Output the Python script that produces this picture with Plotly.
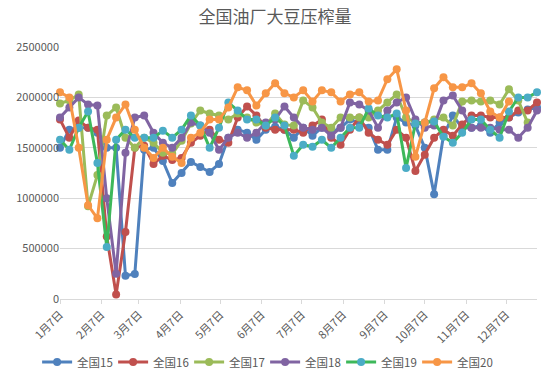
import pandas as pd
import plotly.graph_objects as go

dates = pd.date_range("2015-01-07", periods=52, freq="7D")

month_ticks = pd.date_range("2015-01-01", periods=12, freq="MS") + pd.Timedelta(days=6)
tick_labels = [f"{m}月7日" for m in range(1, 13)]

s15 = [1.50, 1.68, 1.70, 1.70, 1.65, 1.50, 1.50, 0.23, 0.248, 1.48, 1.50, 1.37, 1.15, 1.25, 1.36, 1.31, 1.26, 1.34,
       1.60, 1.68, 1.65, 1.58, 1.68, 1.71, 1.68, 1.60, 1.70, 1.62, 1.70, 1.65, 1.70, 1.78, 1.75, 1.70, 1.48, 1.48,
       1.80, 1.75, 1.72, 1.50, 1.04, 1.62, 1.82, 1.70, 1.70, 1.72, 1.65, 1.75, 1.80, 1.85, 1.88, 1.90]
s16 = [1.78, 1.60, 1.77, 1.70, 1.68, 0.62, 0.045, 0.665, 1.50, 1.52, 1.34, 1.42, 1.38, 1.40, 1.55, 1.62, 1.68, 1.58,
       1.55, 1.80, 1.91, 1.82, 1.70, 1.68, 1.68, 1.68, 1.65, 1.72, 1.78, 1.60, 1.53, 1.68, 1.80, 1.65, 1.58, 1.53,
       1.68, 1.60, 1.27, 1.43, 1.60, 1.68, 1.62, 1.73, 1.82, 1.82, 1.80, 1.80, 1.80, 1.87, 1.87, 1.95]
s17 = [1.94, 1.97, 2.03, 0.92, 1.23, 1.82, 1.90, 1.60, 1.50, 1.60, 1.55, 1.45, 1.44, 1.57, 1.74, 1.87, 1.84, 1.82,
       1.78, 1.84, 1.80, 1.75, 1.72, 1.84, 1.73, 1.72, 1.97, 1.90, 1.75, 1.70, 1.80, 1.80, 1.80, 1.80, 1.87, 1.95,
       2.03, 1.80, 1.75, 1.75, 1.78, 1.80, 1.72, 1.96, 1.97, 1.96, 1.97, 1.93, 2.08, 1.97, 1.75]
s18 = [1.80, 1.90, 2.00, 1.93, 1.92, 1.00, 0.25, 1.45, 1.80, 1.82, 1.65, 1.55, 1.50, 1.60, 1.75, 1.72, 1.65, 1.48,
       1.60, 1.65, 1.60, 1.65, 1.75, 1.78, 1.91, 1.80, 1.70, 1.68, 1.70, 1.62, 1.70, 1.95, 1.93, 1.87, 1.70, 1.87,
       1.95, 2.00, 1.78, 1.70, 1.72, 1.97, 2.02, 1.87, 1.70, 1.70, 1.70, 1.68, 1.68, 1.60, 1.70, 1.87]
s19 = [1.58, 1.48, 1.70, 1.86, 1.35, 0.515, 1.58, 1.68, 1.60, 1.60, 1.60, 1.67, 1.60, 1.68, 1.82, 1.72, 1.50, 1.70,
       1.95, 1.87, 1.78, 1.78, 1.72, 1.80, 1.72, 1.42, 1.53, 1.51, 1.58, 1.50, 1.60, 1.70, 1.70, 1.89, 1.82, 1.80,
       1.84, 1.30, 1.74, 1.75, 1.76, 1.61, 1.55, 1.65, 1.78, 1.78, 1.68, 1.60, 1.86, 2.00, 2.00, 2.05]
s20 = [2.05, 2.00, 1.50, 0.93, 0.80, 1.58, 1.80, 1.93, 1.68, 1.50, 1.40, 1.50, 1.41, 1.35, 1.60, 1.65, 1.78, 1.78,
       1.90, 2.10, 2.07, 1.92, 2.04, 2.14, 2.04, 2.00, 2.07, 1.96, 2.07, 2.05, 1.96, 2.03, 2.05, 1.96, 1.97, 2.18,
       2.28, 1.87, 1.41, 1.75, 2.09, 2.20, 2.10, 2.10, 2.14, 2.04, 1.86, 1.80, 1.96]

series = [
    ("全国15", s15, "#4F81BD", "#4F81BD"),
    ("全国16", s16, "#C0504D", "#C0504D"),
    ("全国17", s17, "#9BBB59", "#9BBB59"),
    ("全国18", s18, "#8064A2", "#8064A2"),
    ("全国19", s19, "#3DB85A", "#4BACC6"),
    ("全国20", s20, "#F79646", "#F79646"),
]

fig = go.Figure()
for name, vals, lc, mc in series:
    fig.add_trace(go.Scatter(
        x=dates[:len(vals)], y=[v * 1_000_000 for v in vals], name=name,
        mode="lines+markers", cliponaxis=False,
        line=dict(color=lc, width=3),
        marker=dict(color=mc, size=8),
    ))

font = "Noto Sans CJK SC, sans-serif"
fig.update_layout(
    width=550, height=386,
    margin=dict(l=60, r=13, t=47, b=87, autoexpand=False),
    paper_bgcolor="white", plot_bgcolor="white",
    font=dict(family=font, color="#595959", size=11),
    title=dict(text="全国油厂大豆压榨量", x=0.5, xanchor="center", y=0.955, yanchor="middle",
               font=dict(size=17, color="#595959", family=font)),
    showlegend=True,
    legend=dict(orientation="h", x=0.43, xanchor="center", y=-0.25, yanchor="middle",
                font=dict(size=11.5, color="#595959"), itemwidth=30, tracegroupgap=0,
                entrywidth=31, entrywidthmode="pixels"),
)
fig.update_xaxes(
    type="date", range=[dates[0], dates[-1]],
    tickvals=list(month_ticks), ticktext=tick_labels, tickangle=-45,
    showgrid=False, showline=True, linecolor="#d9d9d9", linewidth=1,
    ticks="outside", ticklen=4, tickcolor="#d9d9d9",
    tickfont=dict(size=11, color="#595959"),
)
fig.update_yaxes(
    range=[0, 2500000], dtick=500000, tickformat="d",
    showgrid=True, gridcolor="#d9d9d9", gridwidth=1, zeroline=False,
    showline=False, ticks="", tickfont=dict(size=11, color="#595959"),
)
fig.write_html("out.html", config={"displayModeBar": False},
               post_script="document.body.style.margin='0';")
